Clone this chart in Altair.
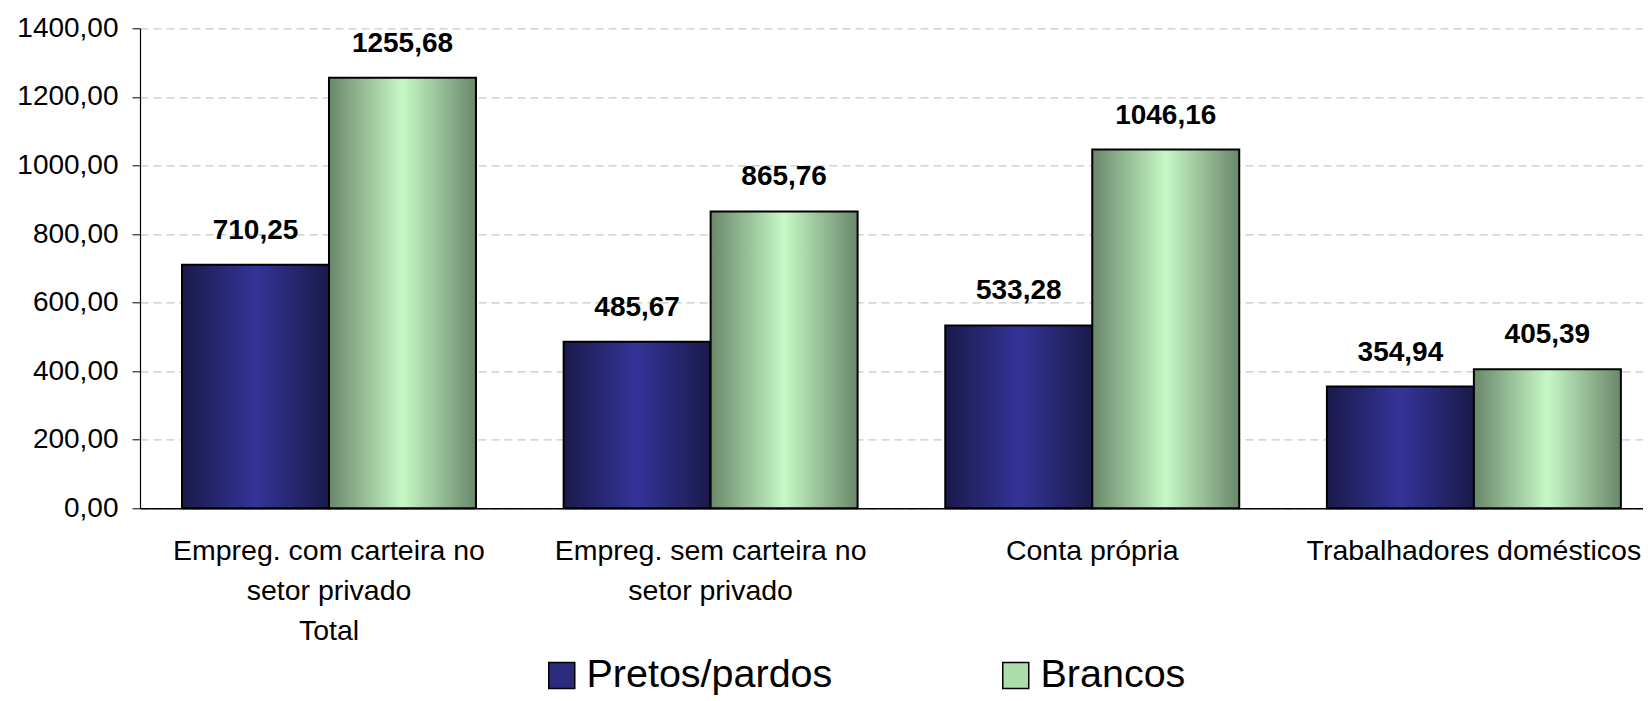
import altair as alt
import pandas as pd

# ---- data ----
categorias = [
    "Empreg. com carteira no\nsetor privado\nTotal",
    "Empreg. sem carteira no\nsetor privado",
    "Conta própria",
    "Trabalhadores domésticos",
]
series = ["Pretos/pardos", "Brancos"]
pretos_pardos = [710.25, 485.67, 533.28, 354.94]
brancos = [1255.68, 865.76, 1046.16, 405.39]
y_ticks = [0, 200, 400, 600, 800, 1000, 1200, 1400]

rows = []
for c, p, b in zip(categorias, pretos_pardos, brancos):
    rows.append({"categoria": c, "serie": series[0], "valor": p})
    rows.append({"categoria": c, "serie": series[1], "valor": b})
df = pd.DataFrame(rows)

FONT = "Liberation Sans"

grad_blue = {
    "gradient": "linear", "x1": 0, "x2": 1, "y1": 0, "y2": 0,
    "stops": [
        {"offset": 0, "color": "#1a1a4b"},
        {"offset": 0.5, "color": "#343499"},
        {"offset": 1, "color": "#1a1a4b"},
    ],
}
grad_green = {
    "gradient": "linear", "x1": 0, "x2": 1, "y1": 0, "y2": 0,
    "stops": [
        {"offset": 0, "color": "#6a876a"},
        {"offset": 0.5, "color": "#c6f8c6"},
        {"offset": 1, "color": "#6a876a"},
    ],
}

x_enc = alt.X(
    "categoria:N",
    sort=categorias,
    scale=alt.Scale(paddingInner=0.2297, paddingOuter=0.084, align=0.655),
    axis=alt.Axis(
        title=None, labelAngle=0, labelExpr="split(datum.label, '\\n')",
        labelFont=FONT, labelFontSize=28.5, labelColor="black",
        labelPadding=28, labelLineHeight=40, labelLimit=600,
        labelBaseline="top", labelOverlap=False,
        ticks=False, domainColor="black", domainWidth=1.5, grid=False,
    ),
)
xoff_enc = alt.XOffset(
    "serie:N", sort=series,
    scale=alt.Scale(domain=series, paddingInner=0, paddingOuter=0),
)
y_enc = alt.Y(
    "valor:Q",
    scale=alt.Scale(domain=[0, 1400], nice=False),
    axis=alt.Axis(
        title=None, values=y_ticks,
        labelExpr="replace(format(datum.value, '.2f'), '.', ',')",
        labelFont=FONT, labelFontSize=28, labelColor="black", labelPadding=14,
        tickSize=8, tickColor="black", domainColor="black", domainWidth=1.2,
        grid=True, gridColor="#c8c8c8", gridDash=[8, 5], gridWidth=1.2,
    ),
)

base = alt.Chart(df)

bars = base.mark_bar(stroke="black", strokeWidth=2).encode(
    x=x_enc, xOffset=xoff_enc, y=y_enc,
    fill=alt.condition(
        alt.datum.serie == series[0], alt.value(grad_blue), alt.value(grad_green)
    ),
)

labels = base.transform_calculate(
    rotulo="replace(format(datum.valor, '.2f'), '.', ',')"
).mark_text(
    font=FONT, fontSize=28, fontWeight="bold", color="black",
    baseline="alphabetic", dy=-26,
).encode(x=x_enc, xOffset=xoff_enc, y=y_enc, text="rotulo:N")

legend_layer = base.mark_square(opacity=0, size=1).encode(
    x=x_enc, xOffset=xoff_enc, y=y_enc,
    color=alt.Color(
        "serie:N", sort=series,
        scale=alt.Scale(domain=series, range=["#2b2b7d", "#acdcac"]),
        legend=alt.Legend(
            title=None, orient="none", legendX=402, legendY=627,
            direction="horizontal", columns=2,
            symbolType="square", symbolSize=676,
            symbolStrokeColor="black", symbolStrokeWidth=1.5, symbolOpacity=1,
            labelFont=FONT, labelFontSize=39.5, labelColor="black",
            labelOffset=5, columnPadding=163, padding=0, labelLimit=600,
        ),
    ),
)

chart = alt.layer(bars, labels, legend_layer).properties(
    width=1503, height=480,
    autosize=alt.AutoSizeParams(type="none"),
    padding={"left": 132, "top": 20.3, "right": 0, "bottom": 200},
    background="white",
).configure_view(stroke=None)

chart.save("out.html", embed_options={"renderer": "svg", "actions": False})
